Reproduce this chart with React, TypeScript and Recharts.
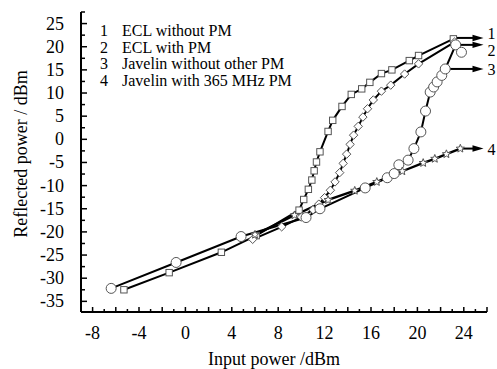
import React from 'react';
import { LineChart, Line, XAxis, YAxis, ReferenceLine, Legend } from 'recharts';

const FONT = '"Liberation Serif", "Times New Roman", serif';

const seriesNames = ['ECL without PM', 'ECL with PM', 'Javelin without other PM', 'Javelin with 365 MHz PM'];
const seriesNumbers = ['1', '2', '3', '4'];

// [input power dBm, reflected power dBm]
const eclWithoutPM: [number, number][] = [
  [-5.3, -32.5], [-1.4, -28.8], [3.1, -24.4], [6.1, -20.8], [9.8, -15.3], [10.2, -13.0],
  [10.6, -10.8], [10.9, -8.8], [11.1, -6.8], [11.3, -4.9], [11.6, -2.7], [12.3, 1.7],
  [12.7, 4.1], [13.5, 7.1], [14.3, 9.7], [15.2, 10.9], [15.9, 12.3], [16.9, 14.2],
  [17.8, 15.0], [19.3, 17.0], [20.1, 18.1], [23.1, 21.7],
];
const eclWithPM: [number, number][] = [
  [5.8, -21.6], [8.3, -18.9], [10.0, -16.8], [11.0, -15.2], [11.5, -14.0], [12.0, -12.6],
  [12.5, -11.0], [12.9, -9.2], [13.3, -7.2], [13.6, -5.2], [13.9, -3.2], [14.2, -1.1],
  [14.5, 0.9], [14.9, 2.8], [15.3, 4.8], [15.7, 6.6], [16.2, 8.5], [16.9, 10.4],
  [17.7, 11.7], [18.9, 14.1], [20.1, 16.3], [23.2, 21.0],
];
const javelinWithoutPM: [number, number][] = [
  [-6.4, -32.2], [-0.8, -26.6], [4.8, -21.0], [10.4, -16.9], [11.6, -15.0], [15.5, -10.5],
  [17.4, -8.3], [18.0, -7.4], [18.4, -5.5], [19.2, -4.5], [19.7, -2.0], [20.3, 1.6],
  [20.7, 6.1], [21.1, 10.2], [21.4, 11.3], [21.7, 12.4], [22.1, 13.8], [22.4, 15.2],
  [23.3, 20.4], [23.8, 18.8],
];
const javelinWith365PM: [number, number][] = [
  [6.0, -20.6], [9.4, -16.4], [12.3, -13.1], [14.6, -11.1], [16.5, -9.2], [18.7, -6.9],
  [20.5, -5.1], [21.5, -4.2], [22.5, -3.2], [23.7, -2.0],
];

const xTicks = [-9, -8, -7, -6, -5, -4, -3, -2, -1, 0, 1, 2, 3, 4, 5, 6, 7, 8, 9, 10, 11, 12,
  13, 14, 15, 16, 17, 18, 19, 20, 21, 22, 23, 24, 25, 26];
const xLabels = [-8, -4, 0, 4, 8, 12, 16, 20, 24];
const yTicks = [-35, -32.5, -30, -27.5, -25, -22.5, -20, -17.5, -15, -12.5, -10, -7.5, -5, -2.5,
  0, 2.5, 5, 7.5, 10, 12.5, 15, 17.5, 20, 22.5, 25, 27.5];
const yLabels = [-35, -30, -25, -20, -15, -10, -5, 0, 5, 10, 15, 20, 25];

// curve end annotations: label, start point, label nudge
const arrowLabels = ['1', '2', '3', '4'];
const arrowStartX = [23.1, 23.2, 22.4, 23.7];
const arrowStartY = [21.9, 20.4, 15.2, -2.0];
const arrowLabelNudge = [-5, 5, 0, 0];
const arrowTipX = 25.7;

const toData = (pts: [number, number][]) => pts.map(([x, y]) => ({ x, y }));

const MARK = '#555';

const SquareDot = (p: any) => {
  const { cx, cy } = p;
  if (cx == null || cy == null) return <g key={`s${p.index}`} />;
  return <rect key={`s${p.index}`} x={cx - 3.2} y={cy - 3.2} width={6.4} height={6.4} fill="#fff" stroke={MARK} strokeWidth={1} />;
};
const DiamondDot = (p: any) => {
  const { cx, cy } = p;
  if (cx == null || cy == null) return <g key={`d${p.index}`} />;
  const r = 4.2;
  return <polygon key={`d${p.index}`} points={`${cx},${cy - r} ${cx + r},${cy} ${cx},${cy + r} ${cx - r},${cy}`} fill="#fff" stroke={MARK} strokeWidth={1} />;
};
const CircleDot = (p: any) => {
  const { cx, cy } = p;
  if (cx == null || cy == null) return <g key={`c${p.index}`} />;
  return <circle key={`c${p.index}`} cx={cx} cy={cy} r={5} fill="#fff" stroke={MARK} strokeWidth={1} />;
};
const StarDot = (p: any) => {
  const { cx, cy } = p;
  if (cx == null || cy == null) return <g key={`t${p.index}`} />;
  const pts: string[] = [];
  for (let i = 0; i < 10; i++) {
    const r = i % 2 === 0 ? 4.3 : 1.9;
    const a = -Math.PI / 2 + (i * Math.PI) / 5;
    pts.push(`${cx + r * Math.cos(a)},${cy + r * Math.sin(a)}`);
  }
  return <polygon key={`t${p.index}`} points={pts.join(' ')} fill="#fff" stroke={MARK} strokeWidth={1} />;
};

const XTick = (props: any) => {
  const { x, y, payload } = props;
  const v = payload.value;
  const major = v % 2 === 0;
  return (
    <g>
      <line x1={x} x2={x} y1={y} y2={y - (major ? 5 : 3)} stroke="#000" strokeWidth={1.5} />
      {xLabels.includes(v) && (
        <text x={x} y={y + 27} textAnchor="middle" fontFamily={FONT} fontSize={18} fill="#000">{v}</text>
      )}
    </g>
  );
};

const YTick = (props: any) => {
  const { x, y, payload } = props;
  const v = payload.value;
  const major = yLabels.includes(v);
  return (
    <g>
      <line x1={x} x2={x + (major ? 6 : 4)} y1={y} y2={y} stroke="#000" strokeWidth={1.5} />
      {major && (
        <text x={x - 17} y={y + 6} textAnchor="end" fontFamily={FONT} fontSize={18} fill="#000">{v}</text>
      )}
    </g>
  );
};

const ArrowShape = (props: any) => {
  const { x1, y1, x2, label, nudge } = props;
  return (
    <g>
      <line x1={x1} y1={y1} x2={x2 - 8} y2={y1} stroke="#000" strokeWidth={2} />
      <polygon points={`${x2},${y1} ${x2 - 11},${y1 - 3.2} ${x2 - 11},${y1 + 3.2}`} fill="#000" />
      <text x={x2 + 4} y={y1 + 6 + nudge} fontFamily={FONT} fontSize={16} fill="#000">{label}</text>
    </g>
  );
};

const LegendBox = (props: any) => {
  const items = [...(props.payload || [])].sort(
    (a: any, b: any) => seriesNames.indexOf(a.value) - seriesNames.indexOf(b.value)
  );
  return (
    <div style={{ fontFamily: FONT, fontSize: 16, lineHeight: '16.5px', color: '#000' }}>
      {items.map((p: any) => (
        <div key={p.value} style={{ display: 'flex', whiteSpace: 'nowrap', height: 16.5 }}>
          <span style={{ width: 22, display: 'inline-block' }}>{seriesNumbers[seriesNames.indexOf(p.value)]}</span>
          <span>{p.value}</span>
        </div>
      ))}
    </div>
  );
};

export default function App() {
  return (
    <div style={{ position: 'absolute', left: 0, top: 0 }}>
      <LineChart width={497} height={369} margin={{ top: 12, right: 10, bottom: 0, left: 0 }}>
        <XAxis
          type="number"
          dataKey="x"
          domain={[-9, 26]}
          ticks={xTicks}
          interval={0}
          tickSize={0}
          tickMargin={0}
          height={57}
          tick={<XTick />}
          axisLine={{ stroke: '#000', strokeWidth: 2 }}
          tickLine={false}
          allowDataOverflow
          label={{
            value: 'Input power /dBm',
            content: ({ viewBox }: any) => (
              <text x={viewBox.x + viewBox.width / 2 - 10} y={viewBox.y + 53} textAnchor="middle" fontFamily={FONT} fontSize={18} fill="#000">
                Input power /dBm
              </text>
            ),
          }}
        />
        <YAxis
          type="number"
          dataKey="y"
          domain={[-37.3, 27.5]}
          ticks={yTicks}
          interval={0}
          tickSize={0}
          tickMargin={0}
          width={81}
          tick={<YTick />}
          axisLine={{ stroke: '#000', strokeWidth: 2 }}
          tickLine={false}
          allowDataOverflow
          label={{
            value: 'Reflected power / dBm',
            content: ({ viewBox }: any) => {
              const cx = viewBox.x + 21;
              const cy = viewBox.y + viewBox.height / 2 - 8;
              return (
                <text x={cx} y={cy} transform={`rotate(-90 ${cx} ${cy})`} textAnchor="middle" dominantBaseline="central" fontFamily={FONT} fontSize={18} fill="#000">
                  Reflected power / dBm
                </text>
              );
            },
          }}
        />
        <Legend
          layout="vertical"
          align="center"
          verticalAlign="middle"
          wrapperStyle={{ left: 100, top: 23, width: 320, height: 'auto' }}
          content={<LegendBox />}
        />
        <Line data={toData(eclWithoutPM)} dataKey="y" name={seriesNames[0]} stroke="#000" strokeWidth={2} dot={SquareDot} isAnimationActive={false} />
        <Line data={toData(eclWithPM)} dataKey="y" name={seriesNames[1]} stroke="#000" strokeWidth={2} dot={DiamondDot} isAnimationActive={false} />
        <Line data={toData(javelinWithoutPM)} dataKey="y" name={seriesNames[2]} stroke="#000" strokeWidth={2} dot={CircleDot} isAnimationActive={false} />
        <Line data={toData(javelinWith365PM)} dataKey="y" name={seriesNames[3]} stroke="#000" strokeWidth={2.4} dot={StarDot} isAnimationActive={false} />
        {arrowLabels.map((lab, i) => (
          <ReferenceLine
            key={lab}
            segment={[{ x: arrowStartX[i], y: arrowStartY[i] }, { x: arrowTipX, y: arrowStartY[i] }]}
            ifOverflow="visible"
            shape={(p: any) => <ArrowShape {...p} label={lab} nudge={arrowLabelNudge[i]} />}
          />
        ))}
      </LineChart>
    </div>
  );
}
